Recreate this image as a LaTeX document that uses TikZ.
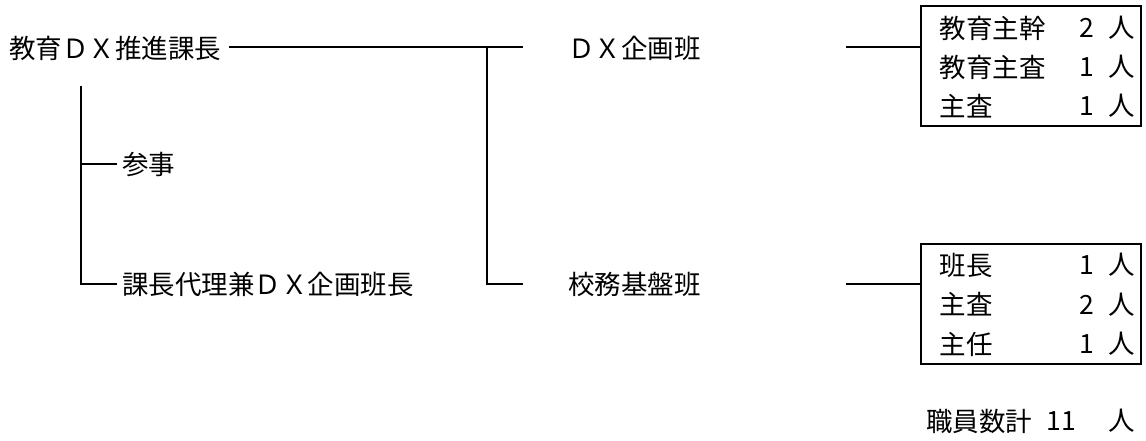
\documentclass[tikz,border=0pt]{standalone}
\usepackage{fontspec}
\newfontfamily\jp{Noto Sans CJK JP}
\begin{document}
\begin{tikzpicture}[x=1pt,y=-1pt,
  lbl/.style={anchor=west,inner sep=0pt,font=\jp\fontsize{26.5}{30}\selectfont},
  num/.style={anchor=center,inner sep=0pt,font=\jp\fontsize{26.5}{30}\selectfont},
  conn/.style={line width=2pt},
  boxline/.style={line width=2pt}]
\useasboundingbox (0,0) rectangle (1146,441);
% top-level
\node[lbl] (chief) at (9,48) {教育ＤＸ推進課長};
\coordinate (c0) at (229,47);
\coordinate (j1) at (487,47);
\coordinate (c1) at (523,47);
\coordinate (j2) at (487,283.5);
\coordinate (c2) at (523,283.5);
\draw[conn] (c0) -- (j1) -- (c1);
\draw[conn] (j1) -- (j2) -- (c2);
% left branch
\coordinate (l0) at (80.7,86);
\coordinate (l1) at (80.7,164);
\coordinate (l1e) at (117,164);
\coordinate (l2) at (80.7,283.5);
\coordinate (l2e) at (117,283.5);
\draw[conn] (l0) -- (l2) -- (l2e);
\draw[conn] (l1) -- (l1e);
\node[lbl] (sanji) at (122,165) {参事};
\node[lbl] (dairi) at (122,284) {課長代理兼ＤＸ企画班長};
% teams
\node[lbl] (dx) at (568,48) {ＤＸ企画班};
\node[lbl] (kimu) at (568,284) {校務基盤班};
% boxes
\node[draw,boxline,minimum width=220.5pt,minimum height=120pt,inner sep=0pt] (box1) at (1030.8,66) {};
\node[draw,boxline,minimum width=220.5pt,minimum height=120pt,inner sep=0pt] (box2) at (1030.8,303.5) {};
\coordinate (d1) at (846,47);
\coordinate (d2) at (846,283.5);
\draw[conn] (d1) -- (d1 -| box1.west);
\draw[conn] (d2) -- (d2 -| box2.west);
% box1 rows
\node[lbl] (r11) at (939.5,28) {教育主幹};
\node[num] (n11) at (1087,28) {2};
\node[num] (p11) at (1122,28) {人};
\node[lbl] (r12) at (939.5,67) {教育主査};
\node[num] (n12) at (1087,67) {1};
\node[num] (p12) at (1122,67) {人};
\node[lbl] (r13) at (939.5,106) {主査};
\node[num] (n13) at (1087,106) {1};
\node[num] (p13) at (1122,106) {人};
% box2 rows
\node[lbl] (r21) at (939.5,265) {班長};
\node[num] (n21) at (1087,265) {1};
\node[num] (p21) at (1122,265) {人};
\node[lbl] (r22) at (939.5,304.5) {主査};
\node[num] (n22) at (1087,304.5) {2};
\node[num] (p22) at (1122,304.5) {人};
\node[lbl] (r23) at (939.5,344) {主任};
\node[num] (n23) at (1087,344) {1};
\node[num] (p23) at (1122,344) {人};
% total
\node[lbl] (tot) at (926,421) {職員数計};
\node[num] (totn) at (1061,421) {11};
\node[num] (totp) at (1122,421) {人};
\end{tikzpicture}
\end{document}
